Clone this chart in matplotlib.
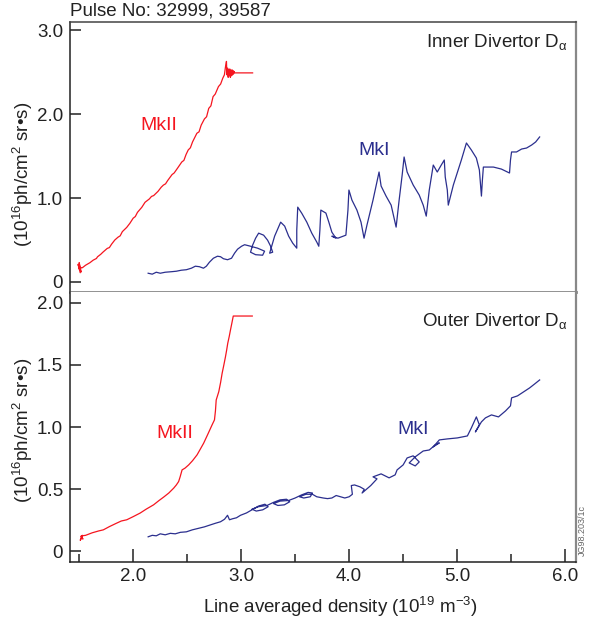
import matplotlib
matplotlib.use("Agg")
import matplotlib.pyplot as plt
import numpy as np

plt.rcParams['font.family'] = ['Liberation Sans', 'DejaVu Sans']
plt.rcParams['mathtext.fontset'] = 'custom'
plt.rcParams['mathtext.rm'] = 'Liberation Sans'
plt.rcParams['mathtext.it'] = 'Liberation Sans'

RED = "#f5151f"
BLUE = "#2b2f8e"

# inner divertor, MkII (pulse 39587)
inner_mk2_x = [1.505, 1.49, 1.51, 1.50, 1.515, 1.495, 1.52, 1.50, 1.53,
               1.56, 1.60, 1.63, 1.66, 1.67, 1.70, 1.72, 1.76, 1.78, 1.80, 1.83,
               1.86, 1.88, 1.90, 1.94, 1.97, 2.00, 2.02, 2.04, 2.08, 2.11, 2.15,
               2.17, 2.19, 2.23, 2.26, 2.28, 2.30, 2.32, 2.36, 2.38, 2.41, 2.45,
               2.47, 2.49, 2.51, 2.53, 2.55, 2.59, 2.61, 2.63, 2.66, 2.68, 2.70,
               2.72, 2.74, 2.76, 2.79, 2.81, 2.83, 2.845, 2.855, 2.864, 2.868,
               2.875, 2.88, 2.885, 2.892, 2.895, 2.90, 2.905, 2.911, 2.915, 2.92,
               2.925, 2.929, 2.935, 2.939, 3.106]
inner_mk2_y = [0.14, 0.21, 0.11, 0.23, 0.15, 0.19, 0.12, 0.17, 0.17,
               0.20, 0.23, 0.26, 0.28, 0.30, 0.33, 0.355, 0.40, 0.41, 0.45, 0.50,
               0.534, 0.55, 0.60, 0.65, 0.70, 0.76, 0.78, 0.83, 0.89, 0.95, 0.99,
               1.02, 1.03, 1.08, 1.13, 1.155, 1.17, 1.21, 1.28, 1.30, 1.355, 1.43,
               1.45, 1.52, 1.574, 1.60, 1.67, 1.773, 1.79, 1.87, 1.944, 1.97, 2.07,
               2.10, 2.21, 2.24, 2.33, 2.36, 2.43, 2.47, 2.565, 2.63, 2.47,
               2.55, 2.44, 2.53, 2.46, 2.54, 2.44, 2.52, 2.458, 2.53, 2.47,
               2.52, 2.48, 2.51, 2.493, 2.493]

# inner divertor, MkI (pulse 32999)
inner_mk1_x = [2.139, 2.177, 2.214, 2.251, 2.297, 2.353, 2.400, 2.446, 2.493,
               2.539, 2.576, 2.613, 2.651, 2.678, 2.706, 2.743, 2.781, 2.809,
               2.836, 2.874, 2.911, 2.939, 2.967, 3.004, 3.032, 3.087, 3.152,
               3.217, 3.199, 3.134, 3.087, 3.106, 3.134, 3.162, 3.208, 3.245,
               3.273, 3.292, 3.264, 3.310, 3.366, 3.403, 3.440, 3.478, 3.515,
               3.515, 3.524, 3.561, 3.608, 3.654, 3.701, 3.719, 3.729, 3.738,
               3.785, 3.812, 3.840, 3.877, 3.840, 3.896, 3.970, 3.989, 3.998,
               4.026, 4.072, 4.110, 4.138, 4.165, 4.221, 4.277, 4.296, 4.342,
               4.389, 4.435, 4.463, 4.491, 4.509, 4.537, 4.593, 4.649, 4.686,
               4.714, 4.742, 4.779, 4.816, 4.853, 4.881, 4.890, 4.909, 4.918,
               4.965, 5.039, 5.086, 5.132, 5.178, 5.206, 5.225, 5.234, 5.243,
               5.336, 5.410, 5.485, 5.494, 5.504, 5.550, 5.597, 5.643, 5.690,
               5.727, 5.764]
inner_mk1_y = [0.104, 0.093, 0.116, 0.104, 0.116, 0.122, 0.128, 0.140, 0.146,
               0.164, 0.188, 0.182, 0.164, 0.188, 0.235, 0.283, 0.307, 0.301,
               0.277, 0.265, 0.283, 0.343, 0.391, 0.426, 0.444, 0.426, 0.403,
               0.367, 0.319, 0.325, 0.355, 0.438, 0.522, 0.582, 0.558, 0.498,
               0.426, 0.355, 0.343, 0.546, 0.713, 0.666, 0.546, 0.462, 0.403,
               0.617, 0.892, 0.820, 0.713, 0.582, 0.474, 0.426, 0.617, 0.857,
               0.821, 0.713, 0.594, 0.522, 0.546, 0.522, 0.558, 0.857, 1.096,
               0.976, 0.857, 0.713, 0.522, 0.678, 0.976, 1.311, 1.144, 1.024,
               0.916, 0.654, 0.976, 1.275, 1.490, 1.311, 1.156, 1.036, 0.916,
               0.785, 1.096, 1.394, 1.311, 1.394, 1.454, 1.251, 1.096, 0.916,
               1.156, 1.454, 1.657, 1.573, 1.478, 1.335, 1.024, 1.215, 1.370,
               1.370, 1.346, 1.299, 1.454, 1.550, 1.550, 1.585, 1.597, 1.633,
               1.669, 1.729]

# outer divertor, MkII
outer_mk2_x = [1.523, 1.51, 1.53, 1.515, 1.535, 1.52, 1.56, 1.62, 1.68, 1.724,
               1.78, 1.84, 1.89, 1.941, 2.00, 2.065, 2.12, 2.189, 2.24, 2.282,
               2.33, 2.375, 2.40, 2.421, 2.435, 2.453, 2.48, 2.514, 2.55, 2.592,
               2.62, 2.653, 2.69, 2.731, 2.753, 2.762, 2.769, 2.793, 2.81, 2.824,
               2.84, 2.855, 2.866, 2.876, 2.89, 2.901, 2.915, 2.927, 3.103]
outer_mk2_y = [0.112, 0.09, 0.13, 0.12, 0.10, 0.125, 0.13, 0.15, 0.165, 0.174,
               0.20, 0.225, 0.245, 0.255, 0.28, 0.309, 0.34, 0.375, 0.41, 0.437,
               0.47, 0.509, 0.535, 0.562, 0.60, 0.656, 0.67, 0.696, 0.73, 0.777,
               0.82, 0.871, 0.94, 1.018, 1.058, 1.13, 1.218, 1.285, 1.36, 1.433,
               1.50, 1.566, 1.62, 1.674, 1.73, 1.780, 1.84, 1.893, 1.893]

# outer divertor, MkI
outer_mk1_x = [2.139, 2.177, 2.214, 2.251, 2.297, 2.344, 2.390, 2.437, 2.493,
               2.548, 2.604, 2.660, 2.716, 2.762, 2.809, 2.846, 2.874, 2.892,
               2.920, 2.957, 2.994,
               3.05, 3.10, 3.16, 3.22, 3.25, 3.20, 3.14, 3.10, 3.16,
               3.24, 3.30, 3.36, 3.42, 3.45, 3.40, 3.34, 3.30, 3.36,
               3.44, 3.50, 3.56, 3.62, 3.66, 3.64, 3.58, 3.54, 3.60, 3.66,
               3.70, 3.76, 3.80, 3.84, 3.88, 3.92, 3.96, 4.00, 4.03, 4.02,
               4.05, 4.10, 4.14, 4.12, 4.16, 4.20, 4.258, 4.221, 4.296, 4.370,
               4.426, 4.444, 4.500, 4.537, 4.593, 4.649, 4.612, 4.556, 4.612,
               4.686, 4.742, 4.798, 4.835, 4.779, 4.835, 4.909, 5.002, 5.095,
               5.132, 5.178, 5.206, 5.169, 5.225, 5.262, 5.318, 5.383, 5.448,
               5.494, 5.504, 5.559, 5.615, 5.671, 5.718, 5.764]
outer_mk1_y = [0.118, 0.130, 0.126, 0.142, 0.134, 0.146, 0.142, 0.154, 0.158,
               0.174, 0.186, 0.198, 0.214, 0.227, 0.239, 0.259, 0.291, 0.255,
               0.263, 0.271, 0.291,
               0.31, 0.335, 0.365, 0.38, 0.36, 0.335, 0.325, 0.34, 0.36,
               0.37, 0.395, 0.415, 0.42, 0.40, 0.375, 0.37, 0.385, 0.405,
               0.41, 0.43, 0.455, 0.475, 0.47, 0.44, 0.43, 0.44, 0.46, 0.46,
               0.44, 0.43, 0.425, 0.43, 0.45, 0.44, 0.43, 0.44, 0.46, 0.53,
               0.535, 0.52, 0.50, 0.47, 0.50, 0.53, 0.584, 0.600, 0.624, 0.592,
               0.616, 0.656, 0.696, 0.752, 0.769, 0.720, 0.688, 0.712, 0.761,
               0.808, 0.816, 0.857, 0.873, 0.841, 0.897, 0.905, 0.913, 0.929,
               0.994, 1.082, 1.018, 0.961, 1.042, 1.074, 1.098, 1.082, 1.130,
               1.171, 1.235, 1.251, 1.283, 1.315, 1.347, 1.379]

inner_yticks = [0, 1.0, 2.0, 3.0]
inner_ylabels = ["0", "1.0", "2.0", "3.0"]
outer_yticks = [0, 0.5, 1.0, 1.5, 2.0]
outer_ylabels = ["0", "0.5", "1.0", "1.5", "2.0"]
xticks = [2.0, 3.0, 4.0, 5.0, 6.0]
xlabels = ["2.0", "3.0", "4.0", "5.0", "6.0"]
xminor = [1.5, 2.5, 3.5, 4.5, 5.5]

fig = plt.figure(figsize=(5.89, 6.28), dpi=100)
ax1 = fig.add_axes([0.1188, 0.535, 0.859, 0.430])
ax2 = fig.add_axes([0.1188, 0.105, 0.859, 0.430])

TXT = "#222222"
for ax in (ax1, ax2):
    ax.set_xlim(1.415, 6.10)
    ax.tick_params(axis='y', direction='in', length=8, width=1.1, color=TXT,
                   labelsize=13.5, labelcolor=TXT, pad=5)
    ax.spines['left'].set_color(TXT)
    ax.spines['left'].set_linewidth(1.1)
    ax.spines['right'].set_color('#888888')
    ax.spines['right'].set_linewidth(1.6)

ax1.set_ylim(-0.12, 3.10)
ax1.set_yticks(inner_yticks)
ax1.set_yticklabels(inner_ylabels)
ax1.set_xticks([])
ax1.spines['top'].set_color('#444444')
ax1.spines['top'].set_linewidth(1.1)
ax1.spines['bottom'].set_color('#888888')
ax1.spines['bottom'].set_linewidth(2.0)

ax2.set_ylim(-0.085, 2.086)
ax2.set_yticks(outer_yticks)
ax2.set_yticklabels(outer_ylabels)
ax2.set_xticks(xticks)
ax2.set_xticklabels(xlabels)
ax2.set_xticks(xminor, minor=True)
ax2.tick_params(axis='x', which='major', direction='in', length=9.5, width=1.1,
                color=TXT, labelsize=13.5, labelcolor=TXT, pad=4)
ax2.tick_params(axis='x', which='minor', direction='in', length=6, width=1.1,
                color=TXT)
ax2.spines['top'].set_visible(False)
ax2.spines['bottom'].set_color(TXT)
ax2.spines['bottom'].set_linewidth(1.1)

ax1.plot(inner_mk2_x, inner_mk2_y, color=RED, lw=0.9)
ax1.plot(inner_mk1_x, inner_mk1_y, color=BLUE, lw=0.9)
ax2.plot(outer_mk2_x, outer_mk2_y, color=RED, lw=0.9)
ax2.plot(outer_mk1_x, outer_mk1_y, color=BLUE, lw=0.9)

ax1.text(2.065, 1.81, "MkII", color=RED, fontsize=14)
ax1.text(4.09, 1.514, "MkI", color=BLUE, fontsize=14)
ax2.text(2.214, 0.911, "MkII", color=RED, fontsize=14)
ax2.text(4.45, 0.945, "MkI", color=BLUE, fontsize=14)

ax1.text(0.984, 0.907, r"Inner Divertor D$_\mathrm{\alpha}$", transform=ax1.transAxes,
         ha='right', va='baseline', fontsize=13.5, color=TXT)
ax2.text(0.984, 0.874, r"Outer Divertor D$_\mathrm{\alpha}$", transform=ax2.transAxes,
         ha='right', va='baseline', fontsize=13.5, color=TXT)

ylab = "(10$^{16}$ph/cm$^2$ sr\u2022s)"
fig.text(0.039, 0.723, ylab, rotation=90, ha='center', va='center',
         fontsize=13.5, color=TXT)
fig.text(0.039, 0.314, ylab, rotation=90, ha='center', va='center',
         fontsize=13.5, color=TXT)
fig.text(0.577, 0.033, r"Line averaged density (10$^{19}$ m$^{-3}$)",
         ha='center', va='center', fontsize=13.5, color=TXT)
fig.text(0.119, 0.976, "Pulse No: 32999, 39587", ha='left', va='baseline',
         fontsize=13.5, color=TXT)
fig.text(0.988, 0.156, "JG98.203/1c", rotation=90, ha='center', va='center',
         fontsize=6.5, color='#666666')

fig.savefig("out.png", dpi=100)
